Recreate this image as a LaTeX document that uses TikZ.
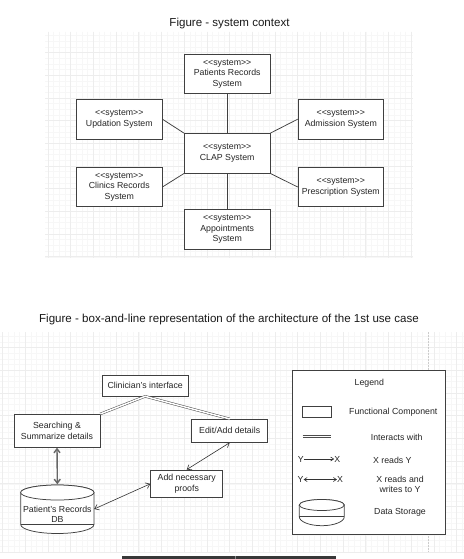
\documentclass[tikz,border=0pt]{standalone}
\usepackage{fontspec}
\setmainfont{Liberation Sans}
\usetikzlibrary{arrows.meta,calc}
\newcommand{\dfont}{\fontsize{8.8}{10.6}\selectfont}
\newcommand{\tfont}{\fontsize{11.6}{13}\selectfont}
\newcommand{\stsys}{<\kern0pt<system>\kern0pt>}
\begin{document}
\begin{tikzpicture}[x=1bp,y=-1bp,
 minorg/.style={draw=black!3, line width=0.4bp},
 majorg/.style={draw=black!7, line width=0.5bp},
 box/.style={draw=black!75, line width=0.75bp, fill=white, inner sep=0pt, align=center, font=\dfont, text=black!85},
 lbl/.style={inner sep=0pt, align=center, font=\dfont, text=black!85},
 ttl/.style={inner sep=0pt, font=\tfont, text=black!90},
 link/.style={draw=black!75, line width=0.75bp},
 iface/.style={draw=black!70, double=white, double distance=1.5bp, line width=0.5bp},
 rw/.style={draw=black!80, line width=0.6bp, {Straight Barb[length=4bp,width=6bp]}-{Straight Barb[length=4bp,width=6bp]}},
 rwthick/.style={draw=black!60, line width=1.4bp, {Straight Barb[length=4bp,width=6bp]}-{Straight Barb[length=4bp,width=6bp]}},
 rd/.style={draw=black!80, line width=0.6bp, -{Straight Barb[length=3bp,width=4bp]}},
 rwl/.style={draw=black!80, line width=0.6bp, {Straight Barb[length=3bp,width=4bp]}-{Straight Barb[length=3bp,width=4bp]}},
 cylst/.style={draw=black!75, line width=0.75bp, fill=white}
]
\useasboundingbox (0,0) rectangle (464,559);
\fill[white] (0,0) rectangle (464,559);

% ---------- top grid ----------
\foreach \i in {8,...,72} \draw[minorg] ({2.5+\i*5.675},32) -- ({2.5+\i*5.675},258);
\foreach \j in {5,...,44} \draw[minorg] (45,{7+\j*5.675}) -- (413,{7+\j*5.675});
\foreach \i in {8,12,...,72} \draw[majorg] ({2.5+\i*5.675},32) -- ({2.5+\i*5.675},258);
\foreach \j in {8,12,...,44} \draw[majorg] (45,{7+\j*5.675}) -- (413,{7+\j*5.675});

% ---------- bottom grid ----------
\foreach \i in {0,...,81} \draw[minorg] ({2.5+\i*5.675},332) -- ({2.5+\i*5.675},552);
\foreach \j in {58,...,96} \draw[minorg] (0,{7+\j*5.675}) -- (464,{7+\j*5.675});
\foreach \i in {0,4,...,80} \draw[majorg] ({2.5+\i*5.675},332) -- ({2.5+\i*5.675},552);
\foreach \j in {60,64,...,96} \draw[majorg] (0,{7+\j*5.675}) -- (464,{7+\j*5.675});
\draw[black!20, line width=0.5bp, dash pattern=on 1.5bp off 1.5bp] (428.5,332) -- (428.5,552);

% ---------- titles ----------
\node[ttl] (t1) at (229.5,23.5) {Figure - system context};
\node[ttl] (t2) at (229,320) {Figure - box-and-line representation of the architecture of the 1st use case};

% ---------- system context ----------
\begin{scope}[every node/.style={box, minimum width=85.5bp, minimum height=39.5bp}]
\node (pat)  at (227.2,73.7)  {\stsys\\Patients Records\\System};
\node (upd)  at (119.3,119.2) {\stsys\\Updation System};
\node (adm)  at (340.8,119.2) {\stsys\\Admission System};
\node (clap) at (227.2,153.3) {\stsys\\CLAP System};
\node (cli)  at (119.3,187)   {\stsys\\Clinics Records\\System};
\node (pre)  at (340.8,187)   {\stsys\\Prescription System};
\node (app)  at (227.2,229.2) {\stsys\\Appointments\\System};
\end{scope}
\draw[link] (pat.south) -- (clap.north);
\draw[link] (upd.east) -- (clap.north west);
\draw[link] (adm.west) -- (clap.north east);
\draw[link] (cli.east) -- (clap.south west);
\draw[link] (pre.west) -- (clap.south east);
\draw[link] (clap.south) -- (app.north);

% ---------- box-and-line ----------
\node[box, minimum width=86.3bp, minimum height=20.3bp] (clin) at (145.2,385.8) {Clinician's interface};
\node[box, minimum width=86bp, minimum height=33bp] (search) at (57,430.8) {Searching \&\\Summarize details};
\node[box, minimum width=76bp, minimum height=23bp] (edit) at (229.7,430.8) {Edit/Add details};
\node[box, minimum width=72bp, minimum height=27.7bp] (proofs) at (186.7,483.8) {Add necessary\\proofs};

% database cylinder
\node[inner sep=0pt, minimum width=73.3bp, minimum height=49bp] (db) at (57.35,509) {};
\filldraw[cylst] (20.7,492.5) -- (20.7,524.5) arc[start angle=180, end angle=360, x radius=36.65bp, y radius=9bp] -- (94,492.5) arc[start angle=0, end angle=180, x radius=36.65bp, y radius=7.5bp] -- cycle;
\draw[cylst] (57.35,492.5) ellipse [x radius=36.65bp, y radius=7.5bp];
\draw[link] (20.7,524.5) -- (94,524.5);
\node[lbl] (dbt) at (57.35,514.5) {Patient's Records\\DB};

\draw[iface] (clin.south) -- (search.north east);
\draw[iface] (clin.south) -- (edit.north);
\draw[rwthick] (search.south) -- (db.north);
\draw[rw] (edit.south) -- (proofs.north);
\draw[rw] (proofs.west) -- (db.east);

% ---------- legend ----------
\node[box, minimum width=153bp, minimum height=164bp] (leg) at (368.8,452) {};
\node[lbl] (legt) at (369.3,383.3) {Legend};
\node[box, minimum width=28.3bp, minimum height=11bp] (lrect) at (316.8,412.2) {};
\node[lbl] (lfc) at (393.3,412.3) {Functional Component};
\coordinate (li1) at (302.7,436.7);
\coordinate (li2) at (331,436.7);
\draw[iface] (li1) -- (li2);
\node[lbl] (liw) at (396.7,437.7) {Interacts with};
\node[lbl] (y1) at (300.7,459) {Y};
\node[lbl] (x1) at (337.3,459) {X};
\draw[rd] (y1.east) -- (x1.west);
\node[lbl] (lr) at (392.3,460) {X reads Y};
\node[lbl] (y2) at (300.5,479.5) {Y};
\node[lbl] (x2) at (340,479.5) {X};
\draw[rwl] (y2.east) -- (x2.west);
\node[lbl] (lrw) at (400,484.2) {X reads and\\writes to Y};
\filldraw[cylst] (299.3,505) -- (299.3,516.7) arc[start angle=180, end angle=360, x radius=22.5bp, y radius=9bp] -- (344.3,505) arc[start angle=0, end angle=180, x radius=22.5bp, y radius=5.5bp] -- cycle;
\draw[cylst] (321.8,505) ellipse [x radius=22.5bp, y radius=5.5bp];
\draw[link] (299.3,516.7) -- (344.3,516.7);
\node[lbl] (lds) at (400,512.3) {Data Storage};

% ---------- bottom bar ----------
\fill[black!78] (121.7,556.3) rectangle (336,559);
\draw[black!45, line width=0.6bp] (235.7,556.3) -- (235.7,559);
\end{tikzpicture}
\end{document}
